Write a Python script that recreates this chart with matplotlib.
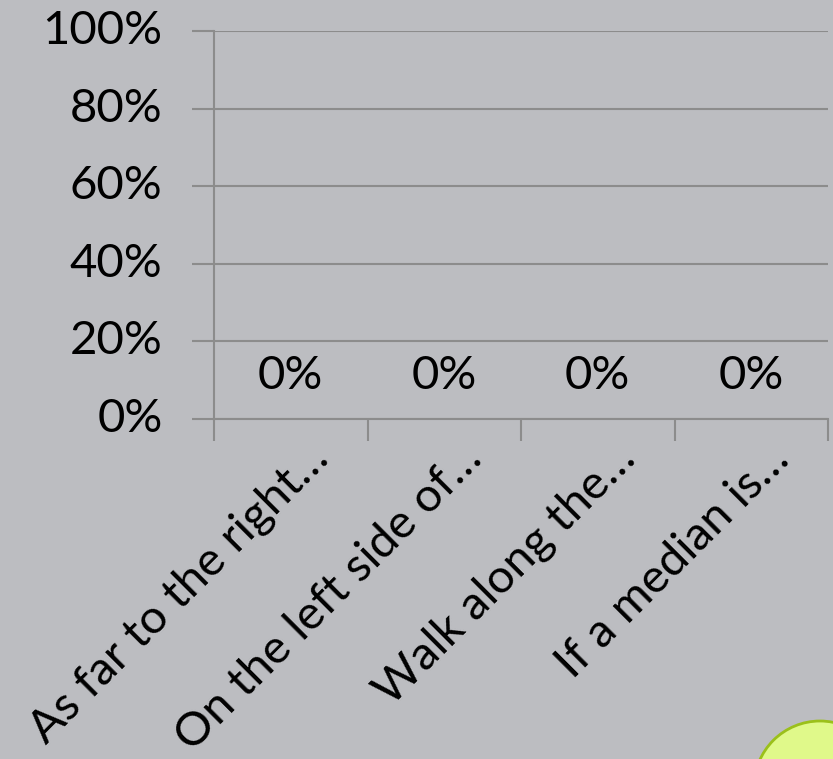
import matplotlib
matplotlib.use("Agg")
import matplotlib.pyplot as plt
from matplotlib.patches import Circle
from matplotlib.ticker import FuncFormatter, FixedLocator

categories = ["As far to the right…", "On the left side of…", "Walk along the…", "If a median is…"]
values = [0, 0, 0, 0]
yticks = [0, 20, 40, 60, 80, 100]

bg = "#bcbdc1"
grid = "#8c8c8c"
font = ["Lato", "DejaVu Sans"]

fig = plt.figure(figsize=(8.33, 7.59), dpi=100, facecolor=bg)
W, H = 833, 759
ax = fig.add_axes([214 / W, 1 - 419 / H, (828 - 214) / W, (419 - 31) / H])
ax.set_facecolor(bg)

x = list(range(len(categories)))
ax.bar(x, values, width=0.6, color="#4f81bd")
ax.set_xlim(-0.5, len(categories) - 0.5)
ax.set_ylim(0, 100)

for xi, v in zip(x, values):
    ax.text(xi, v + 11, f"{v}%", ha="center", va="center", fontsize=34, family=font, color="black")

ax.set_yticks(yticks)
ax.yaxis.set_major_formatter(FuncFormatter(lambda v, p: f"{int(v)}%"))
ax.yaxis.grid(True, color=grid, linewidth=1.5)
ax.set_axisbelow(True)
ax.tick_params(axis="y", length=16, width=1.5, color=grid, pad=21, labelsize=34)
for lab in ax.get_yticklabels():
    lab.set_family(font)
    lab.set_verticalalignment("center")

ax.xaxis.set_major_locator(FixedLocator([-0.5, 0.5, 1.5, 2.5, 3.5]))
ax.xaxis.set_major_formatter(FuncFormatter(lambda v, p: ""))
ax.tick_params(axis="x", length=16, width=1.5, color=grid)
for xi, c in zip(x, categories):
    ax.annotate(c, xy=(xi, 0), xycoords=("data", "axes fraction"), xytext=(31, -33),
                textcoords="offset pixels", rotation=45, rotation_mode="anchor",
                ha="right", va="center", fontsize=34, family=font, color="black",
                annotation_clip=False)

for s in ["top", "right"]:
    ax.spines[s].set_visible(False)
for s in ["left", "bottom"]:
    ax.spines[s].set_color(grid)
    ax.spines[s].set_linewidth(1.5)

circ = Circle((8.20, (H - 787) / 100), 0.66, transform=fig.dpi_scale_trans,
              facecolor="#e0f98a", edgecolor="#9bc01a", linewidth=2)
fig.patches.append(circ)

fig.savefig("out.png", dpi=100, facecolor=bg)
